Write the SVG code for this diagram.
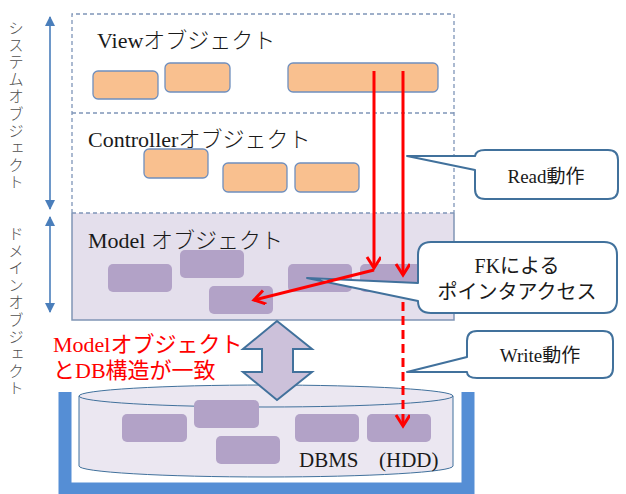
<svg xmlns="http://www.w3.org/2000/svg" width="626" height="494" viewBox="0 0 626 494">
<style>
.t{font-family:"Liberation Serif","Noto Sans CJK JP",serif;fill:#1a1a1a}
.h{font-weight:300}
.vt{font-family:"Noto Sans CJK JP",sans-serif;fill:#505050;font-size:15.5px;letter-spacing:1.7px;writing-mode:vertical-rl;font-weight:300}
.ob{fill:#f9c08f;stroke:#6f8fbe;stroke-width:1.3}
.pb{fill:#b2a2c7;stroke:none}
.frame{fill:none;stroke:#7f95b8;stroke-width:1.3;stroke-dasharray:4,3}
.call{fill:#fff;stroke:#41719c;stroke-width:2;stroke-linejoin:round}
.red{stroke:#ff0000;stroke-width:3;fill:none}
.blue{stroke:#4a7ebb;stroke-width:1.6;fill:none}
</style>
<defs>
<marker id="rh" markerUnits="userSpaceOnUse" markerWidth="20" markerHeight="20" refX="12" refY="7" orient="auto" viewBox="0 0 20 20">
<path d="M1,0 L12,7 L1,14" fill="none" stroke="#ff0000" stroke-width="3"/>
</marker>
<marker id="bh" markerUnits="userSpaceOnUse" markerWidth="12" markerHeight="12" refX="9" refY="5" orient="auto-start-reverse" viewBox="0 0 12 12">
<path d="M0,0 L10,5 L0,10 Z" fill="#4a7ebb"/>
</marker>
</defs>

<!-- side labels -->
<g id="side-labels">
<line class="blue" x1="50" y1="17" x2="50" y2="209" marker-start="url(#bh)" marker-end="url(#bh)"/>
<line class="blue" x1="50" y1="217" x2="50" y2="312" marker-start="url(#bh)" marker-end="url(#bh)"/>
<text class="vt" x="16" y="20">システムオブジェクト</text>
<text class="vt" x="16" y="226">ドメインオブジェクト</text>
</g>

<!-- layers -->
<g id="model-layer">
<rect x="72" y="213" width="382" height="107" fill="#e4dfec" stroke="none"/>
<path d="M72,213 V320 H454 V213" fill="none" stroke="#8095b5" stroke-width="1.5"/>
</g>
<g id="system-frame">
<path class="frame" d="M72,213 V14 H454 V213"/>
<line class="frame" x1="72" y1="113" x2="454" y2="113"/>
<line class="frame" x1="72" y1="213" x2="454" y2="213"/>
</g>

<g id="view">
<text class="t h" x="97" y="48" font-size="22">Viewオブジェクト</text>
<rect class="ob" x="93" y="71" width="65" height="28" rx="5"/>
<rect class="ob" x="165" y="63" width="65" height="29" rx="5"/>
<rect class="ob" x="288" y="63" width="150" height="29" rx="5"/>
</g>

<g id="controller">
<text class="t h" x="88" y="147" font-size="22">Controllerオブジェクト</text>
<rect class="ob" x="144" y="149" width="64" height="29" rx="5"/>
<rect class="ob" x="223" y="163" width="64" height="29" rx="5"/>
<rect class="ob" x="295" y="163" width="64" height="29" rx="5"/>
</g>

<g id="model">
<text class="t h" x="88" y="248" font-size="22">Model オブジェクト</text>
<rect class="pb" x="108" y="264" width="64" height="28" rx="5"/>
<rect class="pb" x="180" y="250" width="64" height="28" rx="5"/>
<rect class="pb" x="209" y="286" width="64" height="28" rx="5"/>
<rect class="pb" x="288" y="264" width="64" height="28" rx="5"/>
<rect class="pb" x="360" y="264" width="64" height="28" rx="5"/>
</g>

<g id="match-note">
<text x="53" y="352" font-size="22" fill="#ff0000" font-family="Liberation Serif, Noto Sans CJK JP, serif">Modelオブジェクト</text>
<text x="53" y="378" font-size="22" fill="#ff0000" font-family="Liberation Serif, Noto Sans CJK JP, serif">とDB構造が一致</text>
</g>

<g id="dbms">
<path d="M65,392 V489 H468 V392" fill="none" stroke="#558ed5" stroke-width="13"/>
<path d="M79,396 V466 A187,11 0 0 0 453,466 V396 Z" fill="#ebe7f1" stroke="#41719c" stroke-width="1"/>
<ellipse cx="266" cy="396" rx="187" ry="11" fill="#ebe7f1" stroke="#41719c" stroke-width="1"/>
<rect class="pb" x="122" y="414" width="65" height="28" rx="5"/>
<rect class="pb" x="194" y="400" width="65" height="28" rx="5"/>
<rect class="pb" x="216" y="436" width="64" height="28" rx="5"/>
<rect class="pb" x="295" y="414" width="64" height="28" rx="5"/>
<rect class="pb" x="367" y="414" width="64" height="28" rx="5"/>
<text class="t" x="299" y="467" font-size="21">DBMS</text>
<text class="t" x="379" y="467" font-size="21">(HDD)</text>
</g>

<g id="double-arrow">
<polygon points="277,321 312,349 293,349 293,372 312,372 277,400 243,372 262,372 262,349 243,349" fill="#ccc1da" stroke="#41719c" stroke-width="2" stroke-linejoin="miter"/>
</g>

<g id="callout-read">
<path class="call" d="M485,150 H608 Q618,150 618,160 V189 Q618,199 608,199 H485 Q475,199 475,189 V170 L407,156 L475,156 Q476,150 485,150 Z"/>
<text class="t" x="546" y="183" font-size="19" text-anchor="middle">Read動作</text>
</g>

<g id="callout-fk">
<path class="call" d="M431,242 H604 Q617,242 617,255 V300 Q617,313 604,313 H431 Q418,313 418,301 L307,278 L418,283 V255 Q418,242 431,242 Z"/>
<text class="t" x="517" y="273" font-size="20" text-anchor="middle">FKによる</text>
<text class="t" x="517" y="299" font-size="20" text-anchor="middle">ポインタアクセス</text>
</g>

<g id="callout-write">
<path class="call" d="M477,331 H603 Q613,331 613,341 V368 Q613,378 603,378 H477 Q467,378 467,372 L407,372 L467,357 V341 Q467,331 477,331 Z"/>
<text class="t" x="540" y="362" font-size="19" text-anchor="middle">Write動作</text>
</g>

<g id="connectors">
<line class="red" x1="374" y1="71" x2="374" y2="268" marker-end="url(#rh)"/>
<line class="red" x1="403" y1="71" x2="403" y2="275" marker-end="url(#rh)"/>
<line class="red" x1="374" y1="270" x2="254" y2="300" marker-end="url(#rh)"/>
<line class="red" x1="403" y1="302" x2="403" y2="426" stroke-dasharray="9,5" marker-end="url(#rh)"/>
</g>
</svg>
